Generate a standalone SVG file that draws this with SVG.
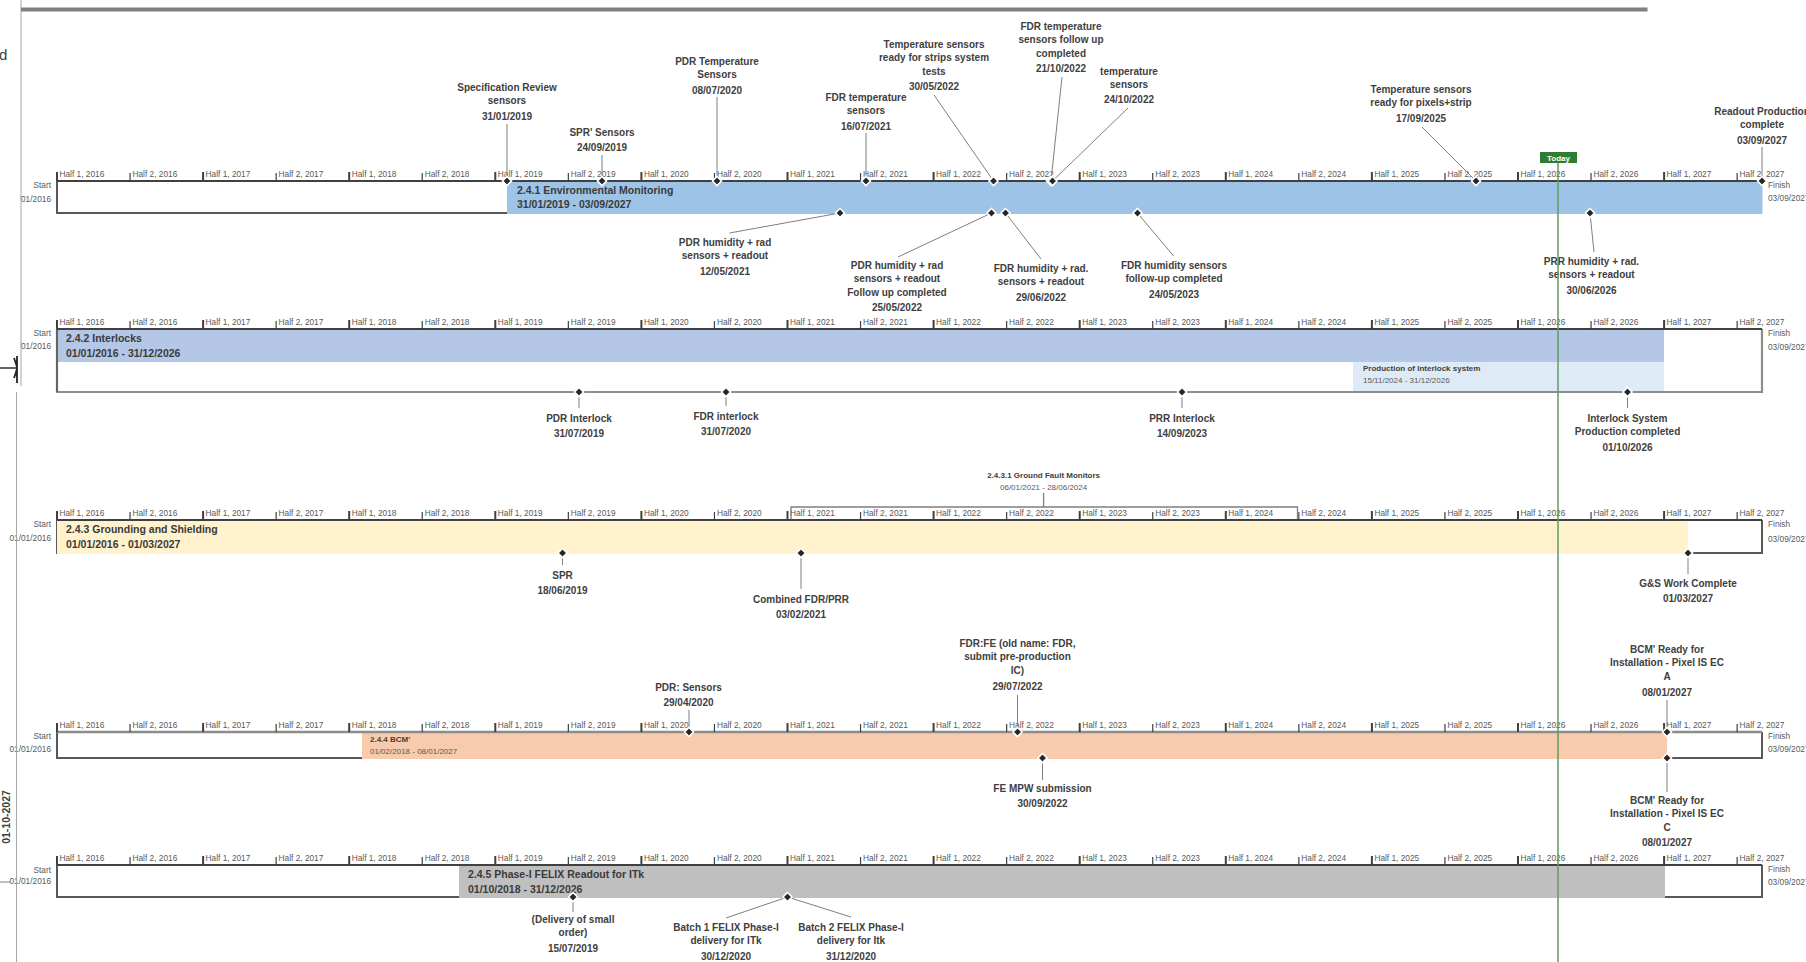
<svg xmlns="http://www.w3.org/2000/svg" width="1806" height="962" viewBox="0 0 1806 962">
<style>
.ax{font-family:"Liberation Sans",Arial,sans-serif;font-size:8.3px;fill:#595959}
.st{font-family:"Liberation Sans",Arial,sans-serif;font-size:8.3px;fill:#595959}
.ml{font-family:"Liberation Sans",Arial,sans-serif;font-weight:bold;font-size:10px;fill:#404040;text-anchor:middle}
.bt{font-family:"Liberation Sans",Arial,sans-serif;font-weight:bold;font-size:10.5px;fill:#3a3a3a}
.sb{font-family:"Liberation Sans",Arial,sans-serif;font-weight:bold;font-size:8px;fill:#404040}
.sn{font-family:"Liberation Sans",Arial,sans-serif;font-size:8px;fill:#595959}
.conn{stroke:#7f7f7f;stroke-width:1;fill:none}
.edge{stroke:#595959;stroke-width:2;fill:none}
.axl{stroke:#404040;stroke-width:2}
</style>
<defs>
<path id="dm" d="M0,-4.5 L4.5,0 L0,4.5 L-4.5,0Z" fill="#262626" stroke="#ffffff" stroke-width="1.6"/>
<g id="axis">
<path d="M57,-9V0M203.1,-9V0M349.2,-9V0M495.3,-9V0M641.4,-9V0M787.5,-9V0M933.6,-9V0M1079.7,-9V0M1225.8,-9V0M1371.9,-9V0M1518,-9V0M1664.1,-9V0" stroke="#404040" stroke-width="2"/>
<path d="M130.05,-8V0M276.15,-8V0M422.25,-8V0M568.35,-8V0M714.45,-8V0M860.55,-8V0M1006.65,-8V0M1152.75,-8V0M1298.85,-8V0M1444.95,-8V0M1591.05,-8V0M1737.15,-8V0" stroke="#404040" stroke-width="1.2"/>
<g class="ax">
<text x="59.5" y="-4.5">Half 1, 2016</text><text x="132.5" y="-4.5">Half 2, 2016</text>
<text x="205.6" y="-4.5">Half 1, 2017</text><text x="278.6" y="-4.5">Half 2, 2017</text>
<text x="351.7" y="-4.5">Half 1, 2018</text><text x="424.7" y="-4.5">Half 2, 2018</text>
<text x="497.8" y="-4.5">Half 1, 2019</text><text x="570.8" y="-4.5">Half 2, 2019</text>
<text x="643.9" y="-4.5">Half 1, 2020</text><text x="716.9" y="-4.5">Half 2, 2020</text>
<text x="790" y="-4.5">Half 1, 2021</text><text x="863" y="-4.5">Half 2, 2021</text>
<text x="936.1" y="-4.5">Half 1, 2022</text><text x="1009.1" y="-4.5">Half 2, 2022</text>
<text x="1082.2" y="-4.5">Half 1, 2023</text><text x="1155.2" y="-4.5">Half 2, 2023</text>
<text x="1228.3" y="-4.5">Half 1, 2024</text><text x="1301.3" y="-4.5">Half 2, 2024</text>
<text x="1374.4" y="-4.5">Half 1, 2025</text><text x="1447.4" y="-4.5">Half 2, 2025</text>
<text x="1520.5" y="-4.5">Half 1, 2026</text><text x="1593.5" y="-4.5">Half 2, 2026</text>
<text x="1666.6" y="-4.5">Half 1, 2027</text><text x="1739.6" y="-4.5">Half 2, 2027</text>
</g>
</g>
</defs>
<rect width="1806" height="962" fill="#ffffff"/>

<!-- Row 1 -->
<g id="row-241">
<rect x="57" y="181" width="1705" height="32" fill="#ffffff"/>
<path class="edge" d="M57,181V213H507"/>
<rect x="507" y="181" width="1255.5" height="33" fill="#9DC3E6"/>
<line class="axl" x1="57" y1="181" x2="1762" y2="181"/>
<use href="#axis" transform="translate(0,181)"/>
<text class="st" x="51" y="188" text-anchor="end">Start</text>
<text class="st" x="51" y="202" text-anchor="end">01/01/2016</text>
<text class="st" x="1768" y="188">Finish</text>
<text class="st" x="1768" y="201">03/09/2027</text>
<text class="bt" x="517" y="193.5">2.4.1 Environmental Monitoring</text>
<text class="bt" x="517" y="207.5">31/01/2019 - 03/09/2027</text>
</g>

<!-- Row 2 -->
<g id="row-242">
<rect x="57" y="329" width="1705" height="63" fill="#ffffff"/>
<rect x="57" y="329" width="1607" height="33" fill="#B4C7E7"/>
<g id="sub-interlock-production">
<rect x="1353" y="362" width="311" height="30" fill="#DEEBF7"/>
<text class="sb" x="1363" y="371">Production of Interlock system</text>
<text class="sn" x="1363" y="383">15/11/2024 - 31/12/2026</text>
</g>
<path d="M57,329V392H1762V329" fill="none" stroke="#8C8C8C" stroke-width="2.2"/>
<line x1="57" y1="329" x2="57" y2="392" stroke="#595959" stroke-width="1.5"/>
<line class="axl" x1="57" y1="329" x2="1762" y2="329"/>
<use href="#axis" transform="translate(0,329)"/>
<text class="st" x="51" y="336" text-anchor="end">Start</text>
<text class="st" x="51" y="349" text-anchor="end">01/01/2016</text>
<text class="st" x="1768" y="336">Finish</text>
<text class="st" x="1768" y="350">03/09/2027</text>
<text class="bt" x="66" y="341.5">2.4.2 Interlocks</text>
<text class="bt" x="66" y="356.5">01/01/2016 - 31/12/2026</text>
</g>

<!-- Row 3 -->
<g id="row-243">
<rect x="57" y="520" width="1705" height="33" fill="#ffffff"/>
<path class="edge" d="M57,520V553H1762V520"/>
<rect x="57" y="520" width="1631" height="34" fill="#FFF2CC"/>
<line class="axl" x1="57" y1="520" x2="1762" y2="520"/>
<use href="#axis" transform="translate(0,520)"/>
<text class="st" x="51" y="527" text-anchor="end">Start</text>
<text class="st" x="51" y="541" text-anchor="end">01/01/2016</text>
<text class="st" x="1768" y="527">Finish</text>
<text class="st" x="1768" y="542">03/09/2027</text>
<text class="bt" x="66" y="532.5">2.4.3 Grounding and Shielding</text>
<text class="bt" x="66" y="547.5">01/01/2016 - 01/03/2027</text>
</g>
<g id="sub-ground-fault-monitors">
<path d="M791,519V507H1297.5V519M1043.6,493V507" fill="none" stroke="#7F7F7F" stroke-width="1.3"/>
<text class="sb" x="1043.6" y="478" text-anchor="middle">2.4.3.1 Ground Fault Monitors</text>
<text class="sn" x="1043.6" y="490" text-anchor="middle">06/01/2021 - 28/06/2024</text>
</g>

<!-- Row 4 -->
<g id="row-244">
<rect x="57" y="732" width="1705" height="26" fill="#ffffff"/>
<path class="edge" d="M57,732V758H1762V732"/>
<path d="M362,732H1667V754L1663,759H362Z" fill="#F8CBAD"/>
<line x1="57" y1="732" x2="1762" y2="732" stroke="#8C8C8C" stroke-width="2.4"/>
<use href="#axis" transform="translate(0,732)"/>
<text class="st" x="51" y="739" text-anchor="end">Start</text>
<text class="st" x="51" y="752" text-anchor="end">01/01/2016</text>
<text class="st" x="1768" y="739">Finish</text>
<text class="st" x="1768" y="752">03/09/2027</text>
<text class="sb" x="370" y="742">2.4.4 BCM'</text>
<text class="sn" x="370" y="754">01/02/2018 - 08/01/2027</text>
</g>

<!-- Row 5 -->
<g id="row-245">
<rect x="57" y="865" width="1705" height="32" fill="#ffffff"/>
<path class="edge" d="M57,865V897H1762V865"/>
<rect x="459" y="865" width="1206" height="33" fill="#BFBFBF"/>
<line class="axl" x1="57" y1="865" x2="1762" y2="865"/>
<use href="#axis" transform="translate(0,865)"/>
<text class="st" x="51" y="873" text-anchor="end">Start</text>
<text class="st" x="51" y="884" text-anchor="end">01/01/2016</text>
<text class="st" x="1768" y="872">Finish</text>
<text class="st" x="1768" y="885">03/09/2027</text>
<text class="bt" x="468" y="877.5">2.4.5 Phase-I FELIX Readout for ITk</text>
<text class="bt" x="468" y="892.5">01/10/2018 - 31/12/2026</text>
</g>

<!-- Connectors -->
<g id="connectors" class="conn">
<line x1="507" y1="124" x2="507" y2="181"/>
<line x1="602" y1="155" x2="602" y2="181"/>
<line x1="717" y1="97" x2="717" y2="181"/>
<line x1="866" y1="133" x2="866" y2="181"/>
<line x1="934" y1="95" x2="993.5" y2="181"/>
<line x1="1062" y1="77" x2="1051" y2="181"/>
<line x1="1128" y1="108" x2="1052.5" y2="181"/>
<line x1="1422" y1="127" x2="1476" y2="181"/>
<line x1="1762" y1="147" x2="1762" y2="181"/>
<line x1="840" y1="213" x2="729.5" y2="233"/>
<line x1="991.5" y1="213" x2="898" y2="257"/>
<line x1="1005.5" y1="213" x2="1041" y2="259"/>
<line x1="1137.5" y1="213" x2="1173.6" y2="256"/>
<line x1="1590" y1="213" x2="1594" y2="252"/>
<line x1="579" y1="392" x2="579" y2="408"/>
<line x1="726" y1="392" x2="726" y2="406"/>
<line x1="1182" y1="392" x2="1182" y2="408"/>
<line x1="1627.5" y1="392" x2="1627.5" y2="408"/>
<line x1="562.5" y1="553" x2="562.5" y2="565"/>
<line x1="801" y1="553" x2="801" y2="589"/>
<line x1="1688" y1="553" x2="1688" y2="574"/>
<line x1="689" y1="710" x2="689" y2="732"/>
<line x1="1017.5" y1="695" x2="1017.5" y2="732"/>
<line x1="1667" y1="700" x2="1667" y2="732"/>
<line x1="1042.5" y1="758" x2="1042.5" y2="780"/>
<line x1="1667" y1="758" x2="1667" y2="792"/>
<line x1="573" y1="897" x2="573" y2="912"/>
<line x1="787.5" y1="897" x2="726" y2="918"/>
<line x1="787.5" y1="897" x2="851" y2="917"/>
</g>

<!-- Milestones row 1 -->
<g id="ms-spec-review"><use href="#dm" x="507" y="181"/><text class="ml"><tspan x="507" y="90.5">Specification Review</tspan><tspan x="507" y="104">sensors</tspan><tspan x="507" y="119.5">31/01/2019</tspan></text></g>
<g id="ms-spr-sensors"><use href="#dm" x="602" y="181"/><text class="ml"><tspan x="602" y="135.5">SPR' Sensors</tspan><tspan x="602" y="151">24/09/2019</tspan></text></g>
<g id="ms-pdr-temp"><use href="#dm" x="717" y="181"/><text class="ml"><tspan x="717" y="64.5">PDR Temperature</tspan><tspan x="717" y="78">Sensors</tspan><tspan x="717" y="93.5">08/07/2020</tspan></text></g>
<g id="ms-fdr-temp"><use href="#dm" x="866" y="181"/><text class="ml"><tspan x="866" y="100.5">FDR temperature</tspan><tspan x="866" y="114">sensors</tspan><tspan x="866" y="129.5">16/07/2021</tspan></text></g>
<g id="ms-temp-strips"><use href="#dm" x="993.5" y="181"/><text class="ml"><tspan x="934" y="47.5">Temperature sensors</tspan><tspan x="934" y="61">ready for strips system</tspan><tspan x="934" y="74.5">tests</tspan><tspan x="934" y="90">30/05/2022</tspan></text></g>
<g id="ms-fdr-temp-followup"><use href="#dm" x="1051" y="181"/><text class="ml"><tspan x="1061" y="29.5">FDR temperature</tspan><tspan x="1061" y="43">sensors follow up</tspan><tspan x="1061" y="56.5">completed</tspan><tspan x="1061" y="72">21/10/2022</tspan></text></g>
<g id="ms-temp-sensors"><use href="#dm" x="1052.5" y="181"/><text class="ml"><tspan x="1129" y="74.5">temperature</tspan><tspan x="1129" y="88">sensors</tspan><tspan x="1129" y="103">24/10/2022</tspan></text></g>
<g id="ms-temp-pixels"><use href="#dm" x="1476" y="181"/><text class="ml"><tspan x="1421" y="92.5">Temperature sensors</tspan><tspan x="1421" y="106">ready for pixels+strip</tspan><tspan x="1421" y="121.5">17/09/2025</tspan></text></g>
<g id="ms-readout-prod"><use href="#dm" x="1762" y="181"/><text class="ml"><tspan x="1762" y="114.5">Readout Production</tspan><tspan x="1762" y="128">complete</tspan><tspan x="1762" y="143.5">03/09/2027</tspan></text></g>
<g id="ms-pdr-hum"><use href="#dm" x="840" y="213"/><text class="ml"><tspan x="725" y="245.5">PDR humidity + rad</tspan><tspan x="725" y="259">sensors + readout</tspan><tspan x="725" y="274.5">12/05/2021</tspan></text></g>
<g id="ms-pdr-hum-followup"><use href="#dm" x="991.5" y="213"/><text class="ml"><tspan x="897" y="268.5">PDR humidity + rad</tspan><tspan x="897" y="282">sensors + readout</tspan><tspan x="897" y="295.5">Follow up completed</tspan><tspan x="897" y="311">25/05/2022</tspan></text></g>
<g id="ms-fdr-hum"><use href="#dm" x="1005.5" y="213"/><text class="ml"><tspan x="1041" y="271.5">FDR humidity + rad.</tspan><tspan x="1041" y="285">sensors + readout</tspan><tspan x="1041" y="300.5">29/06/2022</tspan></text></g>
<g id="ms-fdr-hum-followup"><use href="#dm" x="1137.5" y="213"/><text class="ml"><tspan x="1174" y="268.5">FDR humidity sensors</tspan><tspan x="1174" y="282">follow-up completed</tspan><tspan x="1174" y="297.5">24/05/2023</tspan></text></g>
<g id="ms-prr-hum"><use href="#dm" x="1590" y="213"/><text class="ml"><tspan x="1591.5" y="264.5">PRR humidity + rad.</tspan><tspan x="1591.5" y="278">sensors + readout</tspan><tspan x="1591.5" y="293.5">30/06/2026</tspan></text></g>

<!-- Milestones row 2 -->
<g id="ms-pdr-interlock"><use href="#dm" x="579" y="392"/><text class="ml"><tspan x="579" y="421.5">PDR Interlock</tspan><tspan x="579" y="437">31/07/2019</tspan></text></g>
<g id="ms-fdr-interlock"><use href="#dm" x="726" y="392"/><text class="ml"><tspan x="726" y="419.5">FDR interlock</tspan><tspan x="726" y="435">31/07/2020</tspan></text></g>
<g id="ms-prr-interlock"><use href="#dm" x="1182" y="392"/><text class="ml"><tspan x="1182" y="421.5">PRR Interlock</tspan><tspan x="1182" y="437">14/09/2023</tspan></text></g>
<g id="ms-interlock-prod"><use href="#dm" x="1627.5" y="392"/><text class="ml"><tspan x="1627.5" y="421.5">Interlock System</tspan><tspan x="1627.5" y="435">Production completed</tspan><tspan x="1627.5" y="450.5">01/10/2026</tspan></text></g>

<!-- Milestones row 3 -->
<g id="ms-spr"><use href="#dm" x="562.5" y="553"/><text class="ml"><tspan x="562.5" y="578.5">SPR</tspan><tspan x="562.5" y="594">18/06/2019</tspan></text></g>
<g id="ms-combined-fdr-prr"><use href="#dm" x="801" y="553"/><text class="ml"><tspan x="801" y="602.5">Combined FDR/PRR</tspan><tspan x="801" y="618">03/02/2021</tspan></text></g>
<g id="ms-gs-complete"><use href="#dm" x="1688" y="553"/><text class="ml"><tspan x="1688" y="586.5">G&amp;S Work Complete</tspan><tspan x="1688" y="602">01/03/2027</tspan></text></g>

<!-- Milestones row 4 -->
<g id="ms-pdr-sensors"><use href="#dm" x="689" y="732"/><text class="ml"><tspan x="688.5" y="690.5">PDR: Sensors</tspan><tspan x="688.5" y="706">29/04/2020</tspan></text></g>
<g id="ms-fdr-fe"><use href="#dm" x="1017.5" y="732"/><text class="ml"><tspan x="1017.5" y="646.5">FDR:FE (old name: FDR,</tspan><tspan x="1017.5" y="660">submit pre-production</tspan><tspan x="1017.5" y="673.5">IC)</tspan><tspan x="1017.5" y="689.5">29/07/2022</tspan></text></g>
<g id="ms-bcm-a"><use href="#dm" x="1667" y="732"/><text class="ml"><tspan x="1667" y="652.5">BCM' Ready for</tspan><tspan x="1667" y="666">Installation - Pixel IS EC</tspan><tspan x="1667" y="679.5">A</tspan><tspan x="1667" y="695.5">08/01/2027</tspan></text></g>
<g id="ms-fe-mpw"><use href="#dm" x="1042.5" y="758"/><text class="ml"><tspan x="1042.5" y="791.5">FE MPW submission</tspan><tspan x="1042.5" y="806.5">30/09/2022</tspan></text></g>
<g id="ms-bcm-c"><use href="#dm" x="1667" y="758"/><text class="ml"><tspan x="1667" y="803.5">BCM' Ready for</tspan><tspan x="1667" y="817">Installation - Pixel IS EC</tspan><tspan x="1667" y="830.5">C</tspan><tspan x="1667" y="846">08/01/2027</tspan></text></g>

<!-- Milestones row 5 -->
<g id="ms-delivery-small"><use href="#dm" x="573" y="897"/><text class="ml"><tspan x="573" y="922.5">(Delivery of small</tspan><tspan x="573" y="936">order)</tspan><tspan x="573" y="951.5">15/07/2019</tspan></text></g>
<g id="ms-batch1"><use href="#dm" x="787.5" y="897"/><text class="ml"><tspan x="726" y="930.5">Batch 1 FELIX Phase-I</tspan><tspan x="726" y="944">delivery for ITk</tspan><tspan x="726" y="959.5">30/12/2020</tspan></text></g>
<g id="ms-batch2"><text class="ml"><tspan x="851" y="930.5">Batch 2 FELIX Phase-I</tspan><tspan x="851" y="944">delivery for Itk</tspan><tspan x="851" y="959.5">31/12/2020</tspan></text></g>

<!-- Today -->
<g id="today">
<line x1="1558" y1="163" x2="1558" y2="962" stroke="#5E9E5E" stroke-width="1.5"/>
<rect x="1540" y="152" width="37" height="11" fill="#2E7D32"/>
<text x="1558.5" y="160.5" text-anchor="middle" font-family="Liberation Sans, Arial, sans-serif" font-weight="bold" font-size="8px" fill="#ffffff">Today</text>
</g>

<!-- Left panel -->
<g id="left-panel">
<rect x="0" y="0" width="20.5" height="386" fill="#ffffff"/>
<line x1="21" y1="0" x2="21" y2="386" stroke="#A6A6A6" stroke-width="1"/>
<rect x="21" y="7.5" width="1626.5" height="4" fill="#7F7F7F"/>
<text x="-1" y="60" font-family="Liberation Sans, Arial, sans-serif" font-size="15px" fill="#404040">d</text>
<path d="M0,368H16" stroke="#333333" stroke-width="1.5"/>
<path d="M14,358Q17,366 17,368Q17,370 14,378M17,356V383" fill="none" stroke="#222222" stroke-width="1.8"/>
<line x1="16.5" y1="392" x2="16.5" y2="962" stroke="#A6A6A6" stroke-width="1"/>
<line x1="0" y1="882" x2="10" y2="882" stroke="#7F7F7F" stroke-width="1"/>
<text transform="translate(9.5,817) rotate(-90)" text-anchor="middle" font-family="Liberation Sans, Arial, sans-serif" font-weight="bold" font-size="10.5px" fill="#404040">01-10-2027</text>
</g>
</svg>
